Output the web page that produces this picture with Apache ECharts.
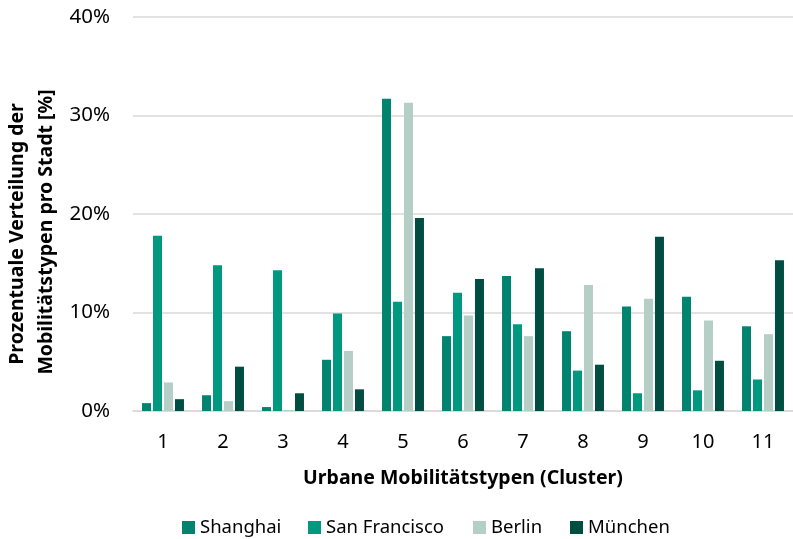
<!DOCTYPE html>
<html>
<head>
<meta charset="utf-8">
<script src="https://cdn.jsdelivr.net/npm/echarts@6/dist/echarts.min.js"></script>
<style>
  html, body { margin: 0; padding: 0; background: #fff; }
  #chart { width: 793px; height: 539px; }
</style>
</head>
<body>
<div id="chart"></div>
<script>
// Cluster categories (urban mobility types)
const clusters = ['1', '2', '3', '4', '5', '6', '7', '8', '9', '10', '11'];

// Share of each mobility type per city, in percent
const shanghai     = [0.8, 1.6, 0.4, 5.2, 31.7, 7.6, 13.7, 8.1, 10.6, 11.6, 8.6];
const sanFrancisco = [17.8, 14.8, 14.3, 9.9, 11.1, 12.0, 8.8, 4.1, 1.8, 2.1, 3.2];
const berlin       = [2.9, 1.0, 0.1, 6.1, 31.3, 9.7, 7.6, 12.8, 11.4, 9.2, 7.8];
const muenchen     = [1.2, 4.5, 1.8, 2.2, 19.6, 13.4, 14.5, 4.7, 17.7, 5.1, 15.3];

const yTicks = { min: 0, max: 40, step: 10 };

const seriesDefs = [
  { name: 'Shanghai', data: shanghai, color: '#00846F' },
  { name: 'San Francisco', data: sanFrancisco, color: '#009980' },
  { name: 'Berlin', data: berlin, color: '#B5CFC7' },
  { name: 'München', data: muenchen, color: '#004D42' }
];

const FONT = '"Noto Sans", "Open Sans", sans-serif';
const legendLeft = [182, 308, 473, 570];

const chart = echarts.init(document.getElementById('chart'), null, { renderer: 'canvas' });

chart.setOption({
  backgroundColor: '#ffffff',
  animation: false,
  textStyle: { fontFamily: FONT },
  grid: { left: 133, top: 17, width: 665, height: 394, containLabel: false },
  xAxis: {
    type: 'category',
    data: clusters,
    axisLine: { lineStyle: { color: '#D9D9D9', width: 1.5 } },
    axisTick: { show: false },
    axisLabel: { color: '#000', fontSize: 20, margin: 21, fontFamily: FONT },
    name: 'Urbane Mobilitätstypen (Cluster)',
    nameLocation: 'middle',
    nameGap: 57,
    nameTextStyle: { color: '#000', fontSize: 19.5, fontWeight: 'bold', fontFamily: FONT }
  },
  yAxis: {
    type: 'value',
    min: yTicks.min,
    max: yTicks.max,
    interval: yTicks.step,
    axisLine: { show: false },
    axisTick: { show: false },
    axisLabel: { color: '#000', fontSize: 20.5, margin: 23, formatter: '{value}%', fontFamily: FONT },
    splitLine: { lineStyle: { color: '#D9D9D9', width: 1.5 } }
  },
  legend: seriesDefs.map((s, i) => ({
    data: [s.name],
    left: legendLeft[i],
    top: 518,
    itemWidth: 13,
    itemHeight: 13,
    itemGap: 0,
    padding: 0,
    icon: 'rect',
    textStyle: { color: '#000', fontSize: 18.5, fontFamily: FONT }
  })),
  graphic: [
    {
      type: 'text',
      x: 17, y: 234,
      rotation: Math.PI / 2,
      style: {
        text: 'Prozentuale Verteilung der',
        font: 'bold 19.5px ' + FONT,
        fill: '#000',
        textAlign: 'center',
        textVerticalAlign: 'middle'
      }
    },
    {
      type: 'text',
      x: 46, y: 232,
      rotation: Math.PI / 2,
      style: {
        text: 'Mobilitätstypen pro Stadt [%]',
        font: 'bold 19.5px ' + FONT,
        fill: '#000',
        textAlign: 'center',
        textVerticalAlign: 'middle'
      }
    }
  ],
  series: seriesDefs.map(s => ({
    name: s.name,
    type: 'bar',
    data: s.data,
    barWidth: 9,
    barGap: '22%',
    itemStyle: { color: s.color },
    emphasis: { disabled: true }
  }))
});
</script>
</body>
</html>
